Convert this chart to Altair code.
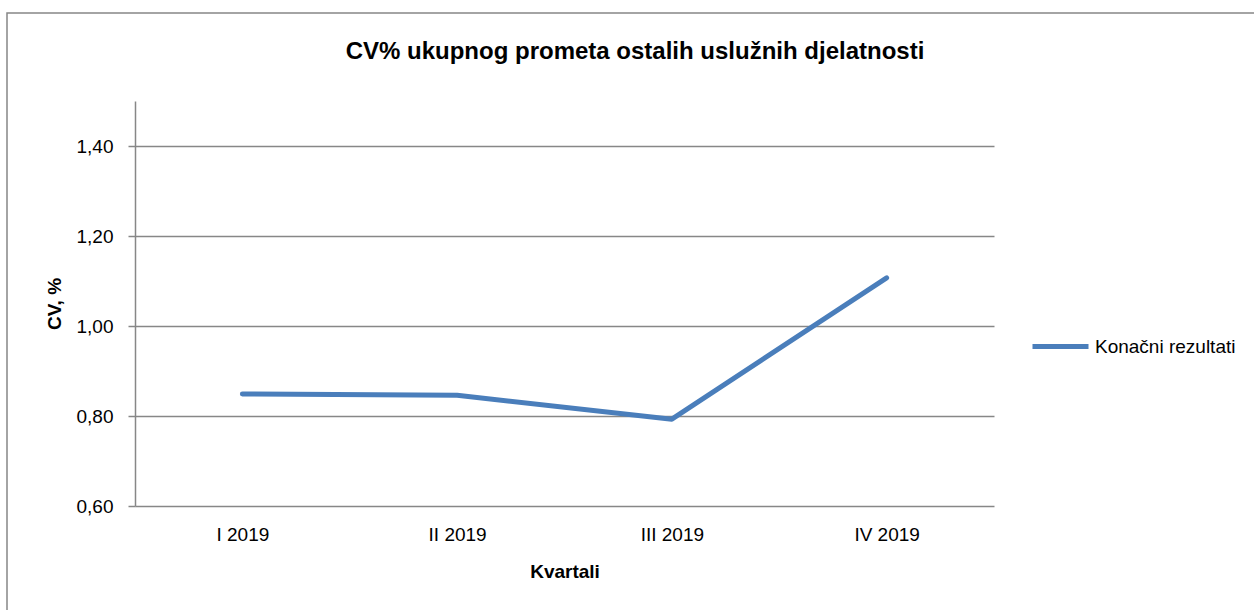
import altair as alt
import pandas as pd

categories = ["I 2019", "II 2019", "III 2019", "IV 2019"]
values = [0.849, 0.846, 0.793, 1.107]
series_name = "Konačni rezultati"
y_ticks = [0.6, 0.8, 1.0, 1.2, 1.4]
title_text = "CV% ukupnog prometa ostalih uslužnih djelatnosti"

df = pd.DataFrame({"Kvartal": categories, "CV": values, "Serija": [series_name] * len(categories)})

FONT = "Liberation Sans, Arial, sans-serif"
FS = 19
GRAY = "#878787"
W, H = 859, 405
LEFT, TOP = 135, 101

line = alt.Chart(df).mark_line(strokeWidth=5, strokeCap="round", strokeJoin="round").encode(
    x=alt.X("Kvartal:N", sort=categories,
            scale=alt.Scale(type="point", padding=0.5),
            axis=alt.Axis(title="Kvartali", domain=False, ticks=False, grid=False,
                          labelAngle=0, labelFont=FONT, labelFontSize=FS, labelColor="#000000",
                          labelPadding=19, titleFont=FONT, titleFontSize=FS, titleFontWeight="bold",
                          titleColor="#000000", titleX=W / 2, titleY=65, titleBaseline="middle")),
    y=alt.Y("CV:Q", scale=alt.Scale(domain=[0.6, 1.5], nice=False, zero=False),
            axis=alt.Axis(title="CV, %", values=y_ticks,
                          labelExpr="replace(format(datum.value, '.2f'), '.', ',')",
                          domainColor=GRAY, domainWidth=1.5, tickColor=GRAY, tickWidth=1.5, tickSize=7,
                          gridColor=GRAY, gridWidth=1.5, labelFont=FONT, labelFontSize=FS,
                          labelColor="#000000", labelPadding=15,
                          titleFont=FONT, titleFontSize=FS, titleFontWeight="bold", titleColor="#000000",
                          titleAngle=270, titleX=-81, titleY=H / 2, titleAlign="center",
                          titleBaseline="middle")),
    color=alt.Color("Serija:N", scale=alt.Scale(range=["#4A7EBB"]),
                    legend=alt.Legend(title=None, orient="none", legendX=895, legendY=215,
                                      symbolType="stroke", symbolSize=3136, symbolStrokeWidth=5,
                                      labelFont=FONT, labelFontSize=FS, labelColor="#000000",
                                      labelOffset=4)),
)

border = alt.Chart(alt.Data(values=[{}])).mark_rect(fill=None, stroke=GRAY, strokeWidth=1.5).encode(
    x=alt.value(7 - LEFT), y=alt.value(13 - TOP),
    x2=alt.value(1264 - LEFT), y2=alt.value(620 - TOP),
)

title = alt.Chart(alt.Data(values=[{"t": title_text}])).mark_text(
    font=FONT, fontSize=24, fontWeight="bold", color="#000000", align="center", baseline="alphabetic"
).encode(
    text="t:N", x=alt.value(635 - LEFT), y=alt.value(59 - TOP),
)

chart = alt.layer(border, line, title).properties(
    width=W, height=H,
    background="white",
    autosize=alt.AutoSizeParams(type="none"),
    padding={"left": LEFT, "top": TOP, "right": 1254 - LEFT - W, "bottom": 610 - TOP - H},
).configure_view(stroke=None)

chart.save("out.html", embed_options={"renderer": "svg", "actions": False})
